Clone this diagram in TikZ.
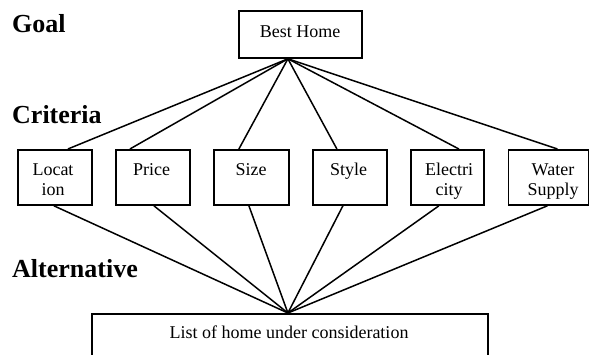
\documentclass[tikz,border=0pt]{standalone}
\usepackage{fontspec}
\setmainfont{Liberation Serif}
\begin{document}
\begin{tikzpicture}[x=1pt,y=-1pt,
  box/.style={draw, line width=1.8pt, inner sep=0pt, anchor=north west},
  crit/.style={box, minimum width=74pt, minimum height=55pt},
  txt/.style={inner sep=0pt, anchor=base, align=center, font=\fontsize{18}{20}\selectfont},
  lvl/.style={inner sep=0pt, anchor=base west, font=\fontsize{26}{28}\selectfont\bfseries},
  link/.style={line width=1.5pt}]
\useasboundingbox (0,0) rectangle (589,354);
\clip (0,0) rectangle (589,354);
% boxes
\node[box, minimum width=123pt, minimum height=47pt] (best) at (238,10) {};
\node[crit] (loc) at (17,149) {};
\node[crit] (price) at (115,149) {};
\node[crit, minimum width=75pt] (size) at (213,149) {};
\node[crit] (style) at (312,149) {};
\node[crit, minimum width=73pt] (elec) at (410,149) {};
\node[crit, minimum width=80pt] (water) at (507.5,149) {};
\node[box, minimum width=396pt, minimum height=60pt] (alt) at (91,313) {};
% texts
\node[txt] (tbest) at (300,37) {Best Home};
\node[txt] (tloc) at (53,195) {Locat\\ion};
\node[txt] (tprice) at (151.5,175) {Price};
\node[txt] (tsize) at (251,175) {Size};
\node[txt] (tstyle) at (348.5,175) {Style};
\node[txt] (telec) at (449,195) {Electri\\city};
\node[txt] (twater) at (553,195) {Water\\Supply};
\node[txt] (talt) at (289,338) {List of home under consideration};
\node[lvl] (goal) at (12,32) {Goal};
\node[lvl] (criteria) at (12,123) {Criteria};
\node[lvl] (alternative) at (12,277) {Alternative};
% connection points
\coordinate (gt) at ([xshift=-12.5pt]best.south);
\coordinate (ab) at ([xshift=-2pt]alt.north);
\draw[link] (gt) -- ([xshift=13pt]loc.north);
\draw[link] (gt) -- ([xshift=-23pt]price.north);
\draw[link] (gt) -- ([xshift=-12.5pt]size.north);
\draw[link] (gt) -- ([xshift=-13pt]style.north);
\draw[link] (gt) -- ([xshift=11.5pt]elec.north);
\draw[link] (gt) -- ([xshift=9pt]water.north);
\draw[link] ([xshift=-1pt]loc.south) -- (ab);
\draw[link] ([xshift=1pt]price.south) -- (ab);
\draw[link] ([xshift=-2.5pt]size.south) -- (ab);
\draw[link] ([xshift=-7pt]style.south) -- (ab);
\draw[link] ([xshift=-8.5pt]elec.south) -- (ab);
\draw[link] ([xshift=-1pt]water.south) -- (ab);
\end{tikzpicture}
\end{document}
